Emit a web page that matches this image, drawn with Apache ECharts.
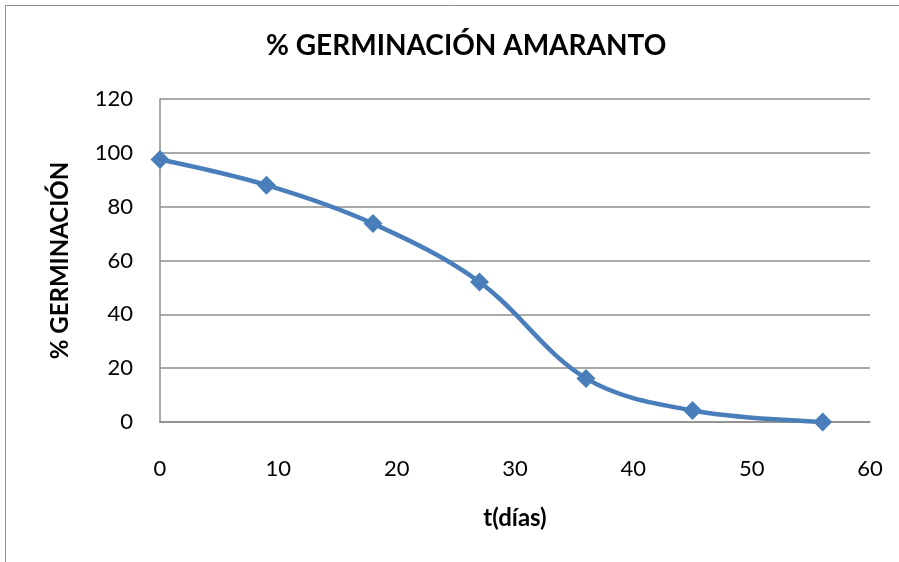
<!DOCTYPE html>
<html>
<head>
<meta charset="utf-8">
<script src="https://cdn.jsdelivr.net/npm/echarts@6/dist/echarts.min.js"></script>
<style>
  html, body { margin: 0; padding: 0; background: #fff; }
  #chart { width: 899px; height: 562px; }
</style>
</head>
<body>
<div id="chart"></div>
<script>
const days = [0, 9, 18, 27, 36, 45, 56];
const germination = [97.5, 88, 73.7, 52, 16.2, 4.3, 0];
const xTicks = [0, 10, 20, 30, 40, 50, 60];
const yTicks = [0, 20, 40, 60, 80, 100, 120];

const chart = echarts.init(document.getElementById('chart'));
const font = 'Lato, "Open Sans", sans-serif';
const gridColor = '#8c8c8c';

chart.setOption({
  animation: false,
  textStyle: { fontFamily: font },
  graphic: [{
    type: 'rect',
    shape: { x: 5.5, y: 5.5, width: 1000, height: 1000 },
    style: { fill: 'none', stroke: '#8c8c8c', lineWidth: 1 },
    silent: true,
  }],
  title: {
    text: '% GERMINACIÓN AMARANTO',
    left: 261,
    top: 27,
    textStyle: { fontSize: 28, fontWeight: 'bold', color: '#000', fontFamily: font },
  },
  grid: { left: 160, right: 29, top: 99, bottom: 140 },
  xAxis: {
    type: 'value',
    min: xTicks[0],
    max: xTicks[xTicks.length - 1],
    interval: 10,
    name: 't(días)',
    nameLocation: 'middle',
    nameGap: 84,
    nameTextStyle: { fontSize: 24, fontWeight: 'bold', color: '#000' },
    axisLine: { show: true, lineStyle: { color: gridColor, width: 1.5 } },
    axisTick: { show: false },
    axisLabel: { fontSize: 22, color: '#000', margin: 36 },
    splitLine: { show: false },
  },
  yAxis: {
    type: 'value',
    min: yTicks[0],
    max: yTicks[yTicks.length - 1],
    interval: 20,
    name: '% GERMINACIÓN',
    nameLocation: 'middle',
    nameGap: 88,
    nameTextStyle: { fontSize: 24, fontWeight: 'bold', color: '#000' },
    axisLine: { show: true, lineStyle: { color: gridColor, width: 1.5 } },
    axisTick: { show: false },
    axisLabel: { fontSize: 22, color: '#000', margin: 27 },
    splitLine: { show: true, lineStyle: { color: gridColor, width: 1.5 } },
  },
  series: [{
    type: 'line',
    data: days.map((d, i) => [d, germination[i]]),
    smooth: 0.35,
    symbol: 'diamond',
    symbolSize: 19,
    lineStyle: { color: '#4a7ebb', width: 4.5 },
    itemStyle: { color: '#4a7ebb' },
  }],
});
</script>
</body>
</html>
